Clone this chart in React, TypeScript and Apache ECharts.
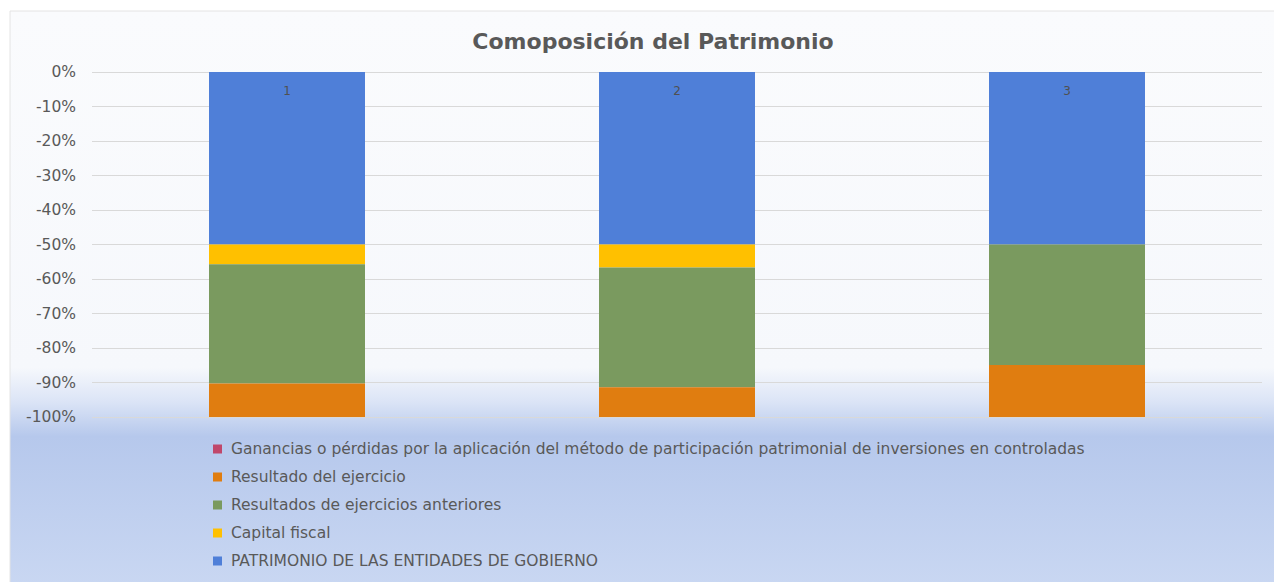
import React, { useEffect, useRef } from "react";
import * as echarts from "echarts";

const categories = ["1", "2", "3"];
const patrimonioEntidades = [-50, -50, -50];
const capitalFiscal = [-5.7, -6.7, 0];
const resultadosAnteriores = [-34.6, -34.7, -34.9];
const resultadoEjercicio = [-9.7, -8.6, -15.1];
const gananciasPerdidas = [0, 0, 0];

const seriesNames = [
  "PATRIMONIO DE LAS ENTIDADES DE GOBIERNO",
  "Capital fiscal",
  "Resultados de ejercicios anteriores",
  "Resultado del ejercicio",
  "Ganancias o pérdidas por la aplicación del método de participación patrimonial de inversiones en controladas",
];
const seriesColors = ["#4f7fd8", "#ffc000", "#7a9a5f", "#e07d10", "#c0476b"];
const seriesData = [
  patrimonioEntidades,
  capitalFiscal,
  resultadosAnteriores,
  resultadoEjercicio,
  gananciasPerdidas,
];

export default function App() {
  const ref = useRef<HTMLDivElement>(null);
  useEffect(() => {
    document.body.style.margin = "0";
    if (!ref.current) return;
    const chart = echarts.init(ref.current, null, { renderer: "svg" });
    const font = "DejaVu Sans";
    chart.setOption({
      animation: false,
      textStyle: { fontFamily: font },
      graphic: [
        {
          type: "rect",
          z: -10,
          silent: true,
          shape: { x: 10, y: 11, width: 1270, height: 575 },
          style: {
            fill: new echarts.graphic.LinearGradient(0, 0, 0, 1, [
              { offset: 0, color: "#fafbfd" },
              { offset: 0.62, color: "#f6f8fc" },
              { offset: 0.68, color: "#dbe4f6" },
              { offset: 0.74, color: "#b6c8ec" },
              { offset: 1, color: "#c9d7f2" },
            ]),
            stroke: "#e4e4e4",
            lineWidth: 1,
          },
        },
      ],
      title: {
        text: "Comoposición del Patrimonio",
        left: 648,
        top: 25,
        textAlign: "center",
        textStyle: { fontFamily: font, fontSize: 22, fontWeight: "bold", color: "#595959" },
      },
      legend: {
        orient: "vertical",
        left: 208,
        top: 436,
        icon: "rect",
        itemWidth: 9,
        itemHeight: 9,
        itemGap: 12,
        data: [...seriesNames].reverse(),
        textStyle: {
          fontFamily: font,
          fontSize: 15.5,
          color: "#595959",
          lineHeight: 16,
          padding: [0, 0, 0, 4],
        },
      },
      grid: { left: 92, right: 12, top: 72, bottom: 165 },
      xAxis: {
        type: "category",
        data: categories,
        position: "top",
        z: 10,
        axisLine: { show: false },
        axisTick: { show: false },
        axisLabel: { inside: true, margin: 13, color: "#505050", fontSize: 12 },
      },
      yAxis: {
        type: "value",
        min: -100,
        max: 0,
        interval: 10,
        axisLine: { show: false },
        axisTick: { show: false },
        splitLine: { lineStyle: { color: "#d9d9d9", width: 1 } },
        axisLabel: {
          formatter: (v: number) => `${Math.round(v)}%`,
          color: "#595959",
          fontSize: 15.5,
          margin: 16,
        },
      },
      series: seriesNames.map((name, i) => ({
        name,
        type: "bar",
        stack: "total",
        barWidth: "40%",
        itemStyle: { color: seriesColors[i] },
        data: seriesData[i],
      })),
    });
    return () => chart.dispose();
  }, []);
  return <div ref={ref} style={{ width: 1274, height: 582 }} />;
}
